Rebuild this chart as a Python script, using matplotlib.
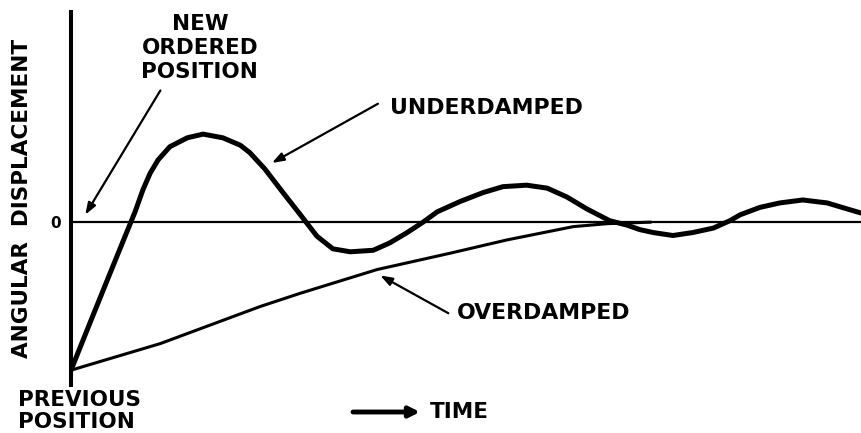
import matplotlib.pyplot as plt

# time (arbitrary units) and angular displacement (1 = size of the ordered step)
under_t = [0.0, 0.24, 0.49, 0.68, 0.81, 0.91, 1.00, 1.10, 1.25, 1.47, 1.67, 1.92,
           2.14, 2.26, 2.45, 2.68, 2.90, 3.11, 3.31, 3.53, 3.82, 4.03, 4.25, 4.45, 4.63,
           4.92, 5.21, 5.46, 5.76, 6.02, 6.27, 6.52, 6.81, 7.03, 7.19, 7.36, 7.61, 7.86,
           8.12, 8.33, 8.46, 8.71, 8.96, 9.25, 9.56, 9.81, 10.0]
under_y = [-1.0, -0.68, -0.35, -0.10, 0.07, 0.22, 0.33, 0.42, 0.51, 0.57, 0.595, 0.57,
           0.52, 0.47, 0.36, 0.20, 0.05, -0.095, -0.18, -0.20, -0.19, -0.14, -0.07, 0.0, 0.07,
           0.14, 0.20, 0.24, 0.25, 0.23, 0.17, 0.09, 0.01, -0.02, -0.05, -0.07, -0.09, -0.07,
           -0.04, 0.01, 0.05, 0.10, 0.13, 0.15, 0.13, 0.09, 0.06]

over_t = [0.0, 1.13, 2.39, 2.90, 3.87, 4.79, 5.51, 6.35, 6.78, 7.32]
over_y = [-1.0, -0.82, -0.57, -0.48, -0.32, -0.21, -0.12, -0.03, -0.01, 0.0]

bold = dict(family="DejaVu Sans", fontweight="bold", color="black")

fig = plt.figure(figsize=(8.62, 4.33), dpi=100)
ax = fig.add_axes([71 / 862, 48 / 433, 1 - 71 / 862, 373 / 433])
ax.set_xlim(0, 10)
ax.set_ylim(-1.10, 1.42)

for s in ["top", "right", "bottom"]:
    ax.spines[s].set_visible(False)
ax.spines["left"].set_linewidth(2.9)
ax.set_xticks([])
ax.set_yticks([0])
ax.set_yticklabels(["0"], fontsize=11, **bold)
ax.tick_params(axis="y", length=0, pad=7)

ax.axhline(0, color="black", lw=1.6)

ax.plot(under_t, under_y, color="black", lw=3.6, solid_joinstyle="round", solid_capstyle="round")
ax.plot(over_t, over_y, color="black", lw=2.2, solid_joinstyle="round")

arrow = dict(arrowstyle="-|>,head_length=0.7,head_width=0.25", color="black", lw=1.6,
             shrinkA=0, shrinkB=0)

ax.text(1.63, 1.18, "NEW\nORDERED\nPOSITION", ha="center", va="center",
        fontsize=15.5, linespacing=1.25, **bold)
ax.annotate("", xy=(0.18, 0.05), xytext=(1.13, 0.89), arrowprops=arrow)

ax.text(4.03, 0.77, "UNDERDAMPED", ha="left", va="center", fontsize=15.8, **bold)
ax.annotate("", xy=(2.54, 0.40), xytext=(3.88, 0.80), arrowprops=arrow)

ax.text(4.88, -0.615, "OVERDAMPED", ha="left", va="center", fontsize=15.8, **bold)
ax.annotate("", xy=(3.91, -0.36), xytext=(4.77, -0.615), arrowprops=arrow)

# labels outside the axes, placed in figure pixels
ax.annotate("", xy=(420, 433 - 412), xytext=(353, 433 - 412), xycoords="figure pixels",
            textcoords="figure pixels",
            arrowprops=dict(arrowstyle="-|>,head_length=0.6,head_width=0.3", color="black",
                            lw=3.5, shrinkA=0, shrinkB=0))
fig.text(430 / 862, (433 - 412) / 433, "TIME", ha="left", va="center", fontsize=15.5, **bold)

fig.text(18 / 862, (433 - 411) / 433, "PREVIOUS\nPOSITION", ha="left", va="center",
         fontsize=15.5, linespacing=1.12, **bold)

fig.text(22 / 862, (433 - 198) / 433, "ANGULAR  DISPLACEMENT", rotation=90,
         ha="center", va="center", fontsize=15.5, **bold)

fig.savefig("out.png", dpi=100)
